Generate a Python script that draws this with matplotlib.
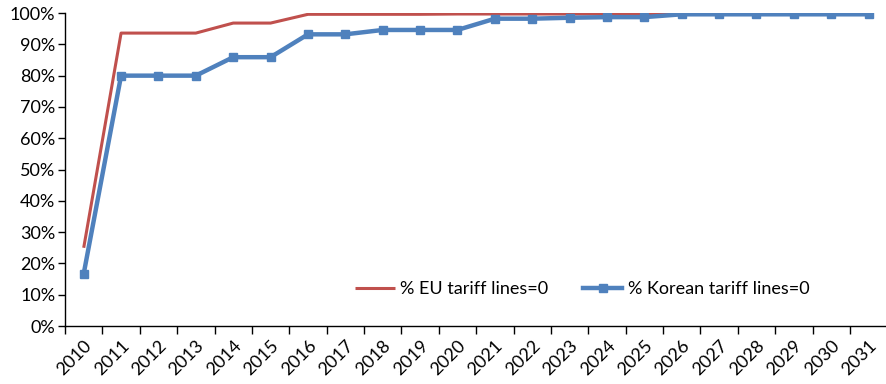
import matplotlib
matplotlib.use("Agg")
import matplotlib.pyplot as plt
from matplotlib.ticker import FixedLocator, NullFormatter, FixedFormatter

years = [str(y) for y in range(2010, 2032)]
eu_share = [25.0, 93.6, 93.6, 93.6, 96.8, 96.8, 99.6, 99.6, 99.6, 99.6, 99.7,
            99.7, 99.7, 99.7, 99.7, 99.7, 99.8, 99.8, 99.8, 99.8, 99.8, 99.8]
korea_share = [16.7, 80.0, 80.0, 80.0, 85.9, 85.9, 93.2, 93.2, 94.6, 94.6, 94.6,
               98.2, 98.2, 98.5, 98.7, 98.7, 99.6, 99.6, 99.6, 99.6, 99.6, 99.6]
y_ticks = list(range(0, 101, 10))

plt.rcParams['font.family'] = ['Lato', 'DejaVu Sans']

fig = plt.figure(figsize=(8.87, 3.84), dpi=100)
ax = fig.add_axes([0.0733, 0.151, 0.927, 0.815])

x = [i + 0.5 for i in range(len(years))]
ax.plot(x, eu_share, color="#C0504D", lw=2.2, solid_capstyle="butt",
        label="% EU tariff lines=0")
ax.plot(x, korea_share, color="#4F81BD", lw=3.2, marker="s", markersize=5.5,
        label="% Korean tariff lines=0")

ax.set_xlim(0, len(years))
ax.set_ylim(0, 100)

ax.xaxis.set_major_locator(FixedLocator(range(len(years) + 1)))
ax.xaxis.set_major_formatter(NullFormatter())
ax.xaxis.set_minor_locator(FixedLocator(x))
ax.xaxis.set_minor_formatter(FixedFormatter(years))
ax.tick_params(axis="x", which="major", direction="out", length=6, width=1)
ax.tick_params(axis="x", which="minor", length=0, pad=8, labelsize=13)
for lbl in ax.get_xticklabels(minor=True):
    lbl.set_rotation(45)
    lbl.set_ha("right")
    lbl.set_rotation_mode("anchor")

ax.set_yticks(y_ticks)
ax.set_yticklabels([f"{v}%" for v in y_ticks])
ax.tick_params(axis="y", direction="out", length=5, width=1, labelsize=13, pad=2)

for side in ("top", "right"):
    ax.spines[side].set_visible(False)
for side in ("left", "bottom"):
    ax.spines[side].set_linewidth(1)

ax.legend(loc="lower left", bbox_to_anchor=(0.333, 0.04), ncol=2, frameon=False,
          fontsize=13, handlelength=2.2, columnspacing=1.9, handletextpad=0.3)

fig.savefig("out.png", dpi=100)
